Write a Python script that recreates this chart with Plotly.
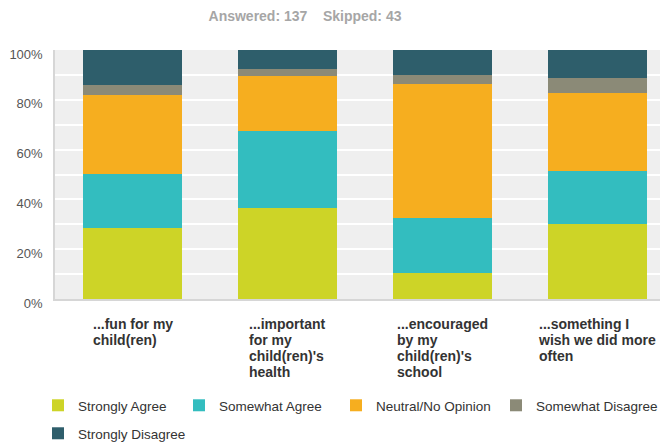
import plotly.graph_objects as go

categories = ["fun", "important", "encouraged", "wish"]
category_label_lines = [
    ["...fun for my", "child(ren)"],
    ["...important", "for my", "child(ren)'s", "health"],
    ["...encouraged", "by my", "child(ren)'s", "school"],
    ["...something I", "wish we did more", "often"],
]
series_names = ["Strongly Agree", "Somewhat Agree", "Neutral/No Opinion",
                "Somewhat Disagree", "Strongly Disagree"]
strongly_agree = [0.285, 0.365, 0.105, 0.303]
somewhat_agree = [0.218, 0.310, 0.220, 0.212]
neutral = [0.316, 0.220, 0.539, 0.311]
somewhat_disagree = [0.040, 0.028, 0.035, 0.063]
strongly_disagree = [0.141, 0.077, 0.101, 0.111]
y_ticks = [0, 0.2, 0.4, 0.6, 0.8, 1.0]
y_tick_labels = ["0%", "20%", "40%", "60%", "80%", "100%"]
answered_text = "Answered: 137"
skipped_text = "Skipped: 43"

colors = ["#cdd427", "#33bdbf", "#f6ae1f", "#8b8a77", "#2e5e6b"]
values = [strongly_agree, somewhat_agree, neutral, somewhat_disagree, strongly_disagree]

# the page body has an 8px margin; the figure is sized to fill the rest of the window
W, H = 660, 434

# legend entry placement (figure pixels): (left x, top y)
legend_slots = [(30, 382), (171, 382), (328, 382), (488, 382), (30, 410)]
legend_ids = ["legend", "legend2", "legend3", "legend4", "legend5"]

fig = go.Figure()
for name, vals, col, lid in zip(series_names, values, colors, legend_ids):
    fig.add_trace(go.Bar(
        x=categories, y=vals, name=name,
        marker=dict(color=col, line=dict(width=0)),
        width=0.64,
        legend=lid,
    ))

font_family = "Liberation Sans, Arial, sans-serif"
legend_font = dict(family=font_family, size=13.5, color="#333333")

legend_layout = {}
for lid, (lx, ly) in zip(legend_ids, legend_slots):
    legend_layout[lid] = dict(orientation="h", xref="container", yref="container",
                              x=lx / W, xanchor="left", y=1 - ly / H, yanchor="top",
                              font=legend_font, bgcolor="rgba(0,0,0,0)")

fig.update_layout(
    barmode="stack",
    width=W, height=H,
    margin=dict(l=47, r=0, t=42, b=143),
    paper_bgcolor="white",
    plot_bgcolor="#efefef",
    font=dict(family=font_family, size=12, color="#555555"),
    title=dict(text=answered_text + "&nbsp;&nbsp;&nbsp;&nbsp;" + skipped_text,
               x=297 / W, xanchor="center", xref="container",
               y=1 - 8 / H, yanchor="middle", yref="container",
               font=dict(family=font_family, size=14, color="#a6a6a6", weight="bold")),
    xaxis=dict(range=[-0.5, 3.455], showticklabels=False, showgrid=False,
               showline=True, linecolor="#d6d6d6", linewidth=2, zeroline=False,
               fixedrange=True),
    yaxis=dict(range=[0, 1], tickvals=y_ticks, ticktext=y_tick_labels,
               showgrid=True, gridcolor="white", gridwidth=1.5,
               minor=dict(dtick=0.1, showgrid=True, gridcolor="white", gridwidth=1.5),
               showline=True, linecolor="#d6d6d6", linewidth=1.5,
               zeroline=False, ticks="", ticklabelshift=4, ticklabelstandoff=8,
               tickfont=dict(size=13, color="#555555")),
    showlegend=True,
    **legend_layout,
)

for cat, lines in zip(categories, category_label_lines):
    text = "<br>".join('<span style="font-size:14px">' + ln + "</span>" for ln in lines)
    fig.add_annotation(
        x=cat, y=0, xref="x", yref="paper",
        text=text, showarrow=False, align="left",
        xanchor="center", yanchor="top", yshift=-15,
        font=dict(family=font_family, size=12.3, color="#333333", weight="bold"),
    )

fig.write_html("out.html")
